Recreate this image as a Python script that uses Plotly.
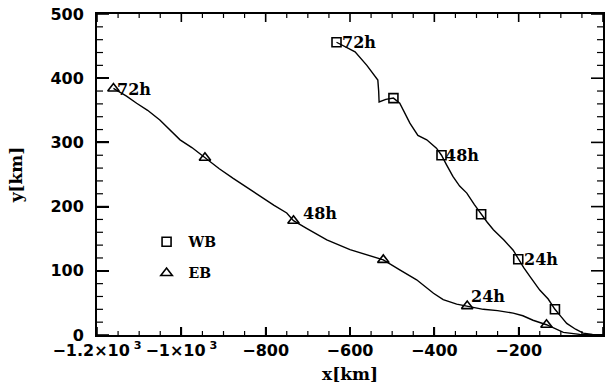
import plotly.graph_objects as go

# ---- data ----
# WB track (path) and 12-hourly positions (squares)
wb_path_x = [-632, -612, -588, -560, -534, -532, -531, -515, -497, -482, -470, -458, -439, -418,
             -395, -383, -371, -356, -340, -323, -305, -289, -275, -260, -235, -213, -201, -188,
             -173, -150, -130, -114, -100, -86, -65, -47, -25, 0]
wb_path_y = [456, 449, 441, 420, 397, 380, 363, 367, 369, 361, 346, 330, 311, 304,
             291, 280, 265, 247, 232, 221, 203, 188, 176, 164, 148, 132, 118, 105,
             91, 70, 56, 40, 29, 18, 9, 3, 1, 0]
wb_mark_x = [-632, -497, -383, -289, -201, -114]
wb_mark_y = [456, 369, 280, 188, 118, 40]
wb_hours = [72, 60, 48, 36, 24, 12]

# EB track (path) and 12-hourly positions (triangles)
eb_path_x = [-1161, -1130, -1106, -1080, -1051, -1025, -1003, -975, -944, -910, -877, -845, -813,
             -780, -750, -734, -703, -655, -600, -545, -521, -481, -442, -402, -379, -347, -322,
             -284, -250, -213, -190, -166, -134, -115, -94, -55, 0]
eb_path_y = [384, 372, 361, 350, 335, 318, 304, 292, 276, 259, 244, 230, 216,
             202, 190, 178, 166, 148, 133, 122, 117, 101, 86, 65, 55, 48, 45,
             40, 38, 34, 30, 23, 16, 10, 4, 1, 0]
eb_mark_x = [-1161, -944, -734, -521, -322, -134]
eb_mark_y = [384, 276, 178, 117, 45, 16]
eb_hours = [72, 60, 48, 36, 24, 12]

x_range = [-1200, 0]
y_range = [0, 500]
x_tickvals = [-1200, -1000, -800, -600, -400, -200, 0]
x_ticktext = ["\u22121.2\u00d710<sup> 3</sup>", "\u22121\u00d710<sup> 3</sup>", "\u2212800",
              "\u2212600", "\u2212400", "\u2212200", "0"]
y_tickvals = [0, 100, 200, 300, 400, 500]
x_minor_step = 50
y_minor_step = 20

# ---- style ----
SERIF = "DejaVu Serif"
SANS = "DejaVu Sans"
X_MAJOR_LEN, X_MINOR_LEN = 8, 4
Y_MAJOR_LEN, Y_MINOR_LEN = 12, 6
# label offsets (px) for labelled hours (72h, 48h, 24h)
wb_label_shift = {72: (3, 0), 48: (1, 0), 24: (4, 0)}
eb_label_shift = {72: (2, -1), 48: (7, 7), 24: (2, 10)}

fig = go.Figure()

fig.add_trace(go.Scatter(x=wb_path_x, y=wb_path_y, mode="lines",
                         line=dict(color="black", width=1.4), showlegend=False, hoverinfo="skip"))
fig.add_trace(go.Scatter(x=eb_path_x, y=eb_path_y, mode="lines",
                         line=dict(color="black", width=1.4), showlegend=False, hoverinfo="skip"))
fig.add_trace(go.Scatter(x=wb_mark_x, y=wb_mark_y, mode="markers", name="WB", legendgroup="wb",
                         marker=dict(symbol="square-open", size=9, color="black",
                                     line=dict(width=1.6, color="black"))))
fig.add_trace(go.Scatter(x=eb_mark_x, y=eb_mark_y, mode="markers", name="EB", legendgroup="eb",
                         marker=dict(symbol="triangle-up-open", size=10, color="black",
                                     line=dict(width=1.6, color="black"))))

annotations = []
for xs, ys, hrs, shifts in [(wb_mark_x, wb_mark_y, wb_hours, wb_label_shift),
                            (eb_mark_x, eb_mark_y, eb_hours, eb_label_shift)]:
    for x, y, h in zip(xs, ys, hrs):
        if h % 24 == 0:
            dx, dy = shifts[h]
            annotations.append(dict(x=x, y=y, xref="x", yref="y", text=f"{h}h", showarrow=False,
                                    xanchor="left", yanchor="middle", xshift=dx, yshift=dy,
                                    font=dict(family=SERIF, size=16, color="black", weight="bold")))

# inside tick marks on all four sides (placed on the axis scales, length in pixels)
x_minor = [v for v in range(x_range[0], x_range[1] + 1, x_minor_step) if v not in x_tickvals]
y_minor = [v for v in range(y_range[0], y_range[1] + 1, y_minor_step) if v not in y_tickvals]
shapes = []
for vals, ln, w in [(x_tickvals, X_MAJOR_LEN, 1.6), (x_minor, X_MINOR_LEN, 1.2)]:
    for v in vals:
        for anchor, sign in [(0, 1), (1, -1)]:
            shapes.append(dict(type="line", xref="x", yref="paper", x0=v, x1=v,
                               ysizemode="pixel", yanchor=anchor, y0=0, y1=sign * ln,
                               line=dict(color="black", width=w), layer="above"))
for vals, ln, w in [(y_tickvals, Y_MAJOR_LEN, 1.6), (y_minor, Y_MINOR_LEN, 1.2)]:
    for v in vals:
        for anchor, sign in [(0, 1), (1, -1)]:
            shapes.append(dict(type="line", xref="paper", yref="y", y0=v, y1=v,
                               xsizemode="pixel", xanchor=anchor, x0=0, x1=sign * ln,
                               line=dict(color="black", width=w), layer="above"))

fig.update_layout(
    template="none",
    width=608, height=388,
    margin=dict(l=97, r=5, t=14, b=53, pad=0, autoexpand=False),
    paper_bgcolor="white", plot_bgcolor="white",
    annotations=annotations,
    shapes=shapes,
    showlegend=True,
    legend=dict(x=0.094, y=0.339, xanchor="left", yanchor="top", bgcolor="rgba(0,0,0,0)",
                font=dict(family=SERIF, size=14, color="black", weight="bold"),
                traceorder="grouped", tracegroupgap=10, itemclick=False, itemwidth=34),
    xaxis=dict(range=x_range, tickmode="array", tickvals=x_tickvals, ticktext=x_ticktext,
               ticks="inside", ticklen=X_MAJOR_LEN, tickwidth=1.6, tickcolor="black",
               showline=True, linecolor="black", linewidth=2, mirror=True,
               showgrid=False, zeroline=False, automargin=False,
               tickfont=dict(family=SANS, size=16, color="black", weight="bold"),
               title=dict(text="x[km]", font=dict(family=SERIF, size=17, color="black", weight="bold"),
                          standoff=9)),
    yaxis=dict(range=y_range, tickmode="array", tickvals=y_tickvals,
               ticks="inside", ticklen=Y_MAJOR_LEN, tickwidth=1.6, tickcolor="black",
               showline=True, linecolor="black", linewidth=2, mirror=True,
               showgrid=False, zeroline=False, automargin=False,
               tickfont=dict(family=SANS, size=16, color="black", weight="bold"),
               ticklabelstandoff=8,
               title=dict(text="y[km]", font=dict(family=SERIF, size=17, color="black", weight="bold"),
                          standoff=23)),
)

fig.write_html("out.html", config={"displayModeBar": False},
               post_script="document.body.style.margin='0px';")
